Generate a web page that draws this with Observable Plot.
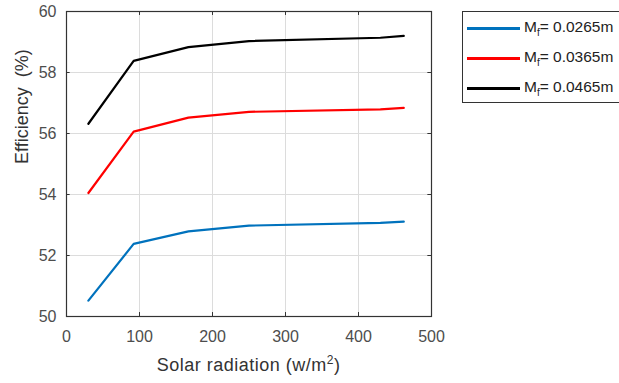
<!DOCTYPE html>
<html>
<head>
<meta charset="utf-8">
<script src="https://cdn.jsdelivr.net/npm/d3@7"></script>
<script src="https://cdn.jsdelivr.net/npm/@observablehq/plot@0.6"></script>
<style>
  body { margin: 0; background: #fff; font-family: "Liberation Sans", Arial, sans-serif; }
  #wrap { position: relative; width: 619px; height: 383px; overflow: hidden; }
  #legend { position: absolute; left: 462px; top: 11px; width: 170px; height: 92px;
            border: 1px solid #333; box-sizing: border-box; background: #fff; }
  .row { position: absolute; left: 4px; height: 20px; display: flex; align-items: center;
         font-size: 15.5px; color: #222; white-space: nowrap; }
  .row .sw { width: 53px; height: 0; border-top: 3px solid; margin-right: 4px; }
  .row sub { font-size: 10px; vertical-align: -4px; }
  #xlabel { position: absolute; left: 0; width: 497px; top: 355px; text-align: center;
            padding-left: 0; font-size: 18px; letter-spacing: 0.5px; color: #333; white-space: nowrap; }
  #xlabel span { display: inline-block; transform: translateX(124px); }
  #xlabel sup { font-size: 12px; vertical-align: 7px; line-height: 0; }
</style>
</head>
<body>
<div id="wrap"><div id="chart"></div><div id="legend"></div><div id="xlabel"></div></div>
<script>
const radiation = [30, 92, 167, 250, 430, 462];
const series = ["0.0265m", "0.0365m", "0.0465m"];
const colors = ["#0072BD", "#FF0000", "#000000"];
const eff0265 = [50.52, 52.38, 52.79, 52.98, 53.07, 53.11];
const eff0365 = [54.05, 56.06, 56.52, 56.71, 56.79, 56.84];
const eff0465 = [56.32, 58.38, 58.83, 59.03, 59.14, 59.20];
const xTicks = [0, 100, 200, 300, 400, 500];
const yTicks = [50, 52, 54, 56, 58, 60];
const xTitle = "Solar radiation (w/m<sup>2</sup>)";
const yTitle = "Efficiency  (%)";

const values = [eff0265, eff0365, eff0465];
const data = [];
series.forEach((s, i) => radiation.forEach((r, j) => data.push({x: r, y: values[i][j], s})));

const plot = Plot.plot({
  width: 619, height: 383,
  marginLeft: 66, marginRight: 188, marginTop: 11, marginBottom: 67,
  style: {fontFamily: "Liberation Sans, Arial, sans-serif", fontSize: "16px", color: "#4d4d4d", background: "transparent"},
  x: {domain: [0, 500]},
  y: {domain: [50, 60]},
  color: {domain: series, range: colors},
  marks: [
    Plot.gridX(xTicks.slice(1, -1), {stroke: "#dcdcdc", strokeOpacity: 1}),
    Plot.gridY(yTicks.slice(1, -1), {stroke: "#dcdcdc", strokeOpacity: 1}),
    Plot.line(data, {x: "x", y: "y", stroke: "s", strokeWidth: 2.2}),
    Plot.ruleX(xTicks, {y1: 50, y2: 50.13, stroke: "#333"}),
    Plot.ruleX(xTicks, {y1: 60, y2: 59.87, stroke: "#333"}),
    Plot.ruleY(yTicks, {x1: 0, x2: 5, stroke: "#333"}),
    Plot.ruleY(yTicks, {x1: 500, x2: 495, stroke: "#333"}),
    Plot.frame({stroke: "#333", strokeWidth: 1.2}),
    Plot.axisX(xTicks, {tickSize: 0, tickPadding: 14, label: null, fill: "#4d4d4d"}),
    Plot.axisY(yTicks, {tickSize: 0, tickPadding: 10, label: null, fill: "#4d4d4d"}),
    Plot.text([yTitle], {frameAnchor: "left", dx: -44, rotate: -90, fontSize: 18, fill: "#333"})
  ]
});
document.getElementById("chart").appendChild(plot);

// x-axis title centred under the plot area (x from 66 to 431)
const xl = document.getElementById("xlabel");
xl.style.left = "66px";
xl.style.width = "365px";
xl.innerHTML = xTitle;

const legend = document.getElementById("legend");
series.forEach((s, i) => {
  const row = document.createElement("div");
  row.className = "row";
  row.style.top = (6 + i * 30) + "px";
  row.innerHTML = `<span class="sw" style="border-color:${colors[i]}"></span><span>M<sub>f</sub>= ${s}</span>`;
  legend.appendChild(row);
});
</script>
</body>
</html>
